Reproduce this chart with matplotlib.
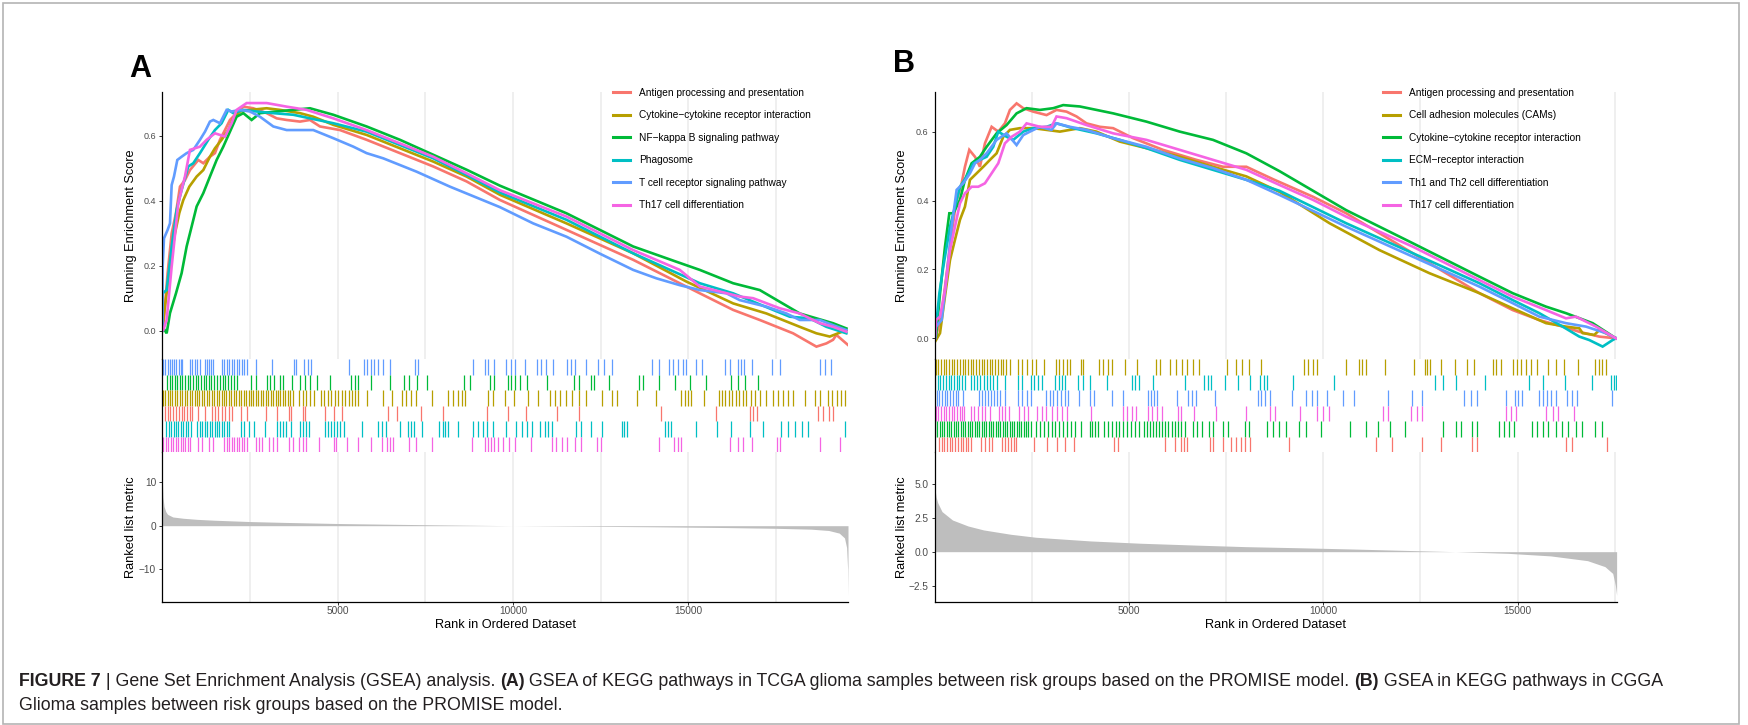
import matplotlib
matplotlib.use("Agg")
import matplotlib.pyplot as plt
from matplotlib.lines import Line2D
from matplotlib.patches import Rectangle
import numpy as np

plt.rcParams['font.family'] = ['Liberation Sans', 'DejaVu Sans']

W, H = 1749, 725

# ggplot hue palette
RED, OLIVE, GREEN, CYAN, BLUE, MAGENTA = '#F8766D', '#B79F00', '#00BA38', '#00BFC4', '#619CFF', '#F564E3'

# ---------------- Panel A (TCGA) ----------------
N_A = 19550
labels_a = ["Antigen processing and presentation", "Cytokine\u2212cytokine receptor interaction",
            "NF\u2212kappa B signaling pathway", "Phagosome", "T cell receptor signaling pathway",
            "Th17 cell differentiation"]
colors_a = [RED, OLIVE, GREEN, CYAN, BLUE, MAGENTA]

# running enrichment score curves (rank, ES)
es_antigen_a_x = [0, 28, 152, 267, 390, 504, 646, 789, 1026, 1169, 1358, 1501, 1644, 1786, 1929, 2119, 2309, 2594, 2975, 3260, 3545, 3925, 4210, 4495, 5065, 5825, 6775, 7725, 8675, 9625, 11524, 13424, 15324, 16274, 17034, 17984, 18649, 18934, 19124, 19219, 19551]
es_antigen_a_y = [0.0, 0.012, 0.177, 0.299, 0.362, 0.443, 0.463, 0.494, 0.525, 0.515, 0.535, 0.546, 0.587, 0.617, 0.648, 0.669, 0.689, 0.684, 0.669, 0.653, 0.648, 0.643, 0.648, 0.628, 0.617, 0.587, 0.546, 0.505, 0.459, 0.402, 0.31, 0.218, 0.115, 0.064, 0.033, -0.008, -0.049, -0.039, -0.028, -0.013, -0.044]
es_cyto_a_x = [0, 28, 124, 238, 361, 485, 599, 770, 979, 1169, 1358, 1501, 1691, 1881, 2024, 2214, 2500, 2975, 3355, 3925, 4305, 4875, 5825, 6775, 7725, 8675, 9625, 11524, 13424, 14944, 16274, 17224, 18174, 18649, 19029, 19504]
es_cyto_a_y = [0.0, 0.033, 0.115, 0.218, 0.299, 0.362, 0.402, 0.443, 0.474, 0.494, 0.535, 0.561, 0.587, 0.617, 0.653, 0.674, 0.679, 0.684, 0.679, 0.669, 0.658, 0.633, 0.602, 0.561, 0.520, 0.474, 0.418, 0.330, 0.238, 0.151, 0.084, 0.053, 0.012, -0.008, -0.018, 0.002]
es_nfkb_x = [0, 10, 124, 219, 390, 551, 694, 836, 979, 1169, 1358, 1549, 1739, 1929, 2119, 2309, 2547, 2785, 3260, 3735, 4210, 4875, 5825, 6775, 7725, 8675, 9625, 11524, 13424, 14659, 15324, 16274, 17034, 18174, 19124, 19504]
es_nfkb_y = [0.0, 0.012, -0.008, 0.054, 0.115, 0.177, 0.259, 0.320, 0.382, 0.423, 0.474, 0.525, 0.566, 0.612, 0.658, 0.669, 0.648, 0.669, 0.674, 0.679, 0.684, 0.664, 0.628, 0.587, 0.541, 0.495, 0.446, 0.361, 0.259, 0.212, 0.187, 0.146, 0.125, 0.053, 0.023, 0.007]
es_phago_x = [0, 10, 124, 267, 409, 551, 741, 884, 1074, 1311, 1501, 1691, 1881, 2024, 2309, 2690, 3165, 3735, 4210, 4875, 5825, 6775, 7725, 8675, 9625, 11524, 13424, 15324, 16274, 17414, 17889, 18459, 18934, 19504]
es_phago_y = [0.0, 0.115, 0.125, 0.259, 0.372, 0.433, 0.505, 0.515, 0.546, 0.587, 0.617, 0.638, 0.679, 0.669, 0.679, 0.674, 0.669, 0.664, 0.653, 0.638, 0.612, 0.571, 0.530, 0.479, 0.425, 0.341, 0.238, 0.146, 0.115, 0.064, 0.043, 0.038, 0.012, -0.008]
es_tcell_x = [0, 10, 48, 152, 219, 267, 333, 428, 551, 694, 884, 1074, 1217, 1358, 1454, 1644, 1834, 1976, 2214, 2500, 2785, 3165, 3545, 3925, 4305, 4875, 5445, 5825, 6300, 7250, 8200, 9625, 10574, 11524, 12474, 13424, 14089, 14754, 15324, 16084, 16464, 17224, 17794, 18174, 18744, 19124, 19504]
es_tcell_y = [0.0, 0.197, 0.284, 0.31, 0.33, 0.448, 0.474, 0.525, 0.535, 0.546, 0.556, 0.587, 0.612, 0.643, 0.648, 0.638, 0.679, 0.674, 0.679, 0.674, 0.658, 0.628, 0.617, 0.617, 0.617, 0.592, 0.566, 0.546, 0.530, 0.489, 0.443, 0.38, 0.330, 0.289, 0.237, 0.187, 0.161, 0.14, 0.125, 0.115, 0.094, 0.074, 0.053, 0.033, 0.033, 0.017, 0.002]
es_th17_a_x = [0, 28, 124, 267, 456, 646, 789, 1074, 1264, 1501, 1786, 1976, 2119, 2405, 2975, 3545, 4115, 4875, 5825, 6775, 7725, 8675, 9625, 11524, 13424, 14754, 15324, 16464, 16844, 17604, 18174, 18744, 19124, 19504]
es_th17_a_y = [0.0, 0.002, 0.033, 0.197, 0.392, 0.474, 0.556, 0.566, 0.587, 0.607, 0.597, 0.638, 0.679, 0.700, 0.700, 0.689, 0.679, 0.653, 0.617, 0.576, 0.535, 0.484, 0.432, 0.351, 0.248, 0.187, 0.136, 0.105, 0.10, 0.069, 0.053, 0.023, 0.012, -0.003]

# gene set hit positions (rank), rows drawn top to bottom
hits_tcell = [28, 90, 150, 215, 280, 340, 400, 470, 530, 566, 779, 850, 920, 990, 1062, 1204, 1270, 1330, 1400, 1458, 1699, 1770, 1840, 1900, 1980, 2050, 2120, 2200, 2270, 2336, 2407, 2662, 3115, 3752, 3823, 4036, 4150, 4248, 5310, 5763, 5850, 5950, 6050, 6150, 6301, 6485, 7193, 7292, 8850, 9204, 9300, 9459, 9813, 9950, 10054, 10337, 10691, 10800, 10950, 11144, 11540, 11650, 11753, 12078, 12432, 12602, 12815, 13976, 14160, 14443, 14550, 14700, 14850, 14939, 15222, 15392, 16043, 16185, 16426, 16510, 16596, 16808, 17374, 17601, 18762, 18904, 19074]
hits_nfkb = [142, 210, 280, 350, 420, 500, 560, 640, 720, 800, 880, 950, 1030, 1100, 1180, 1250, 1330, 1400, 1480, 1560, 1640, 1720, 1800, 1880, 1960, 2040, 2124, 2520, 2662, 2974, 3080, 3186, 3356, 3441, 3710, 3937, 4080, 4220, 4418, 4786, 5381, 5480, 5593, 5947, 6485, 6896, 7038, 7264, 7547, 8609, 8779, 9346, 9445, 9870, 9950, 10050, 10195, 10408, 10974, 11724, 11894, 12220, 12319, 12744, 13594, 13693, 14160, 14627, 15038, 15505, 16213, 16426, 16610, 16992]
hits_cyto_a = [15, 80, 150, 220, 290, 360, 430, 500, 570, 640, 710, 780, 850, 920, 990, 1060, 1130, 1200, 1270, 1340, 1410, 1480, 1550, 1620, 1690, 1760, 1830, 1900, 1970, 2040, 2110, 2180, 2250, 2320, 2390, 2460, 2530, 2600, 2670, 2740, 2810, 2880, 2950, 3020, 3090, 3160, 3230, 3300, 3370, 3440, 3510, 3580, 3650, 3720, 3894, 4000, 4100, 4200, 4319, 4531, 4620, 4720, 4820, 4920, 5020, 5120, 5220, 5320, 5420, 5500, 5593, 5834, 6301, 6556, 6825, 6950, 7100, 7222, 7689, 8142, 8280, 8420, 8540, 8638, 9275, 9416, 9770, 10025, 10436, 10719, 11045, 11200, 11350, 11500, 11682, 11894, 12078, 12532, 12815, 12956, 13523, 14089, 14797, 14900, 15000, 15080, 15434, 15859, 15950, 16050, 16150, 16250, 16350, 16450, 16550, 16638, 16780, 16900, 17050, 17204, 17416, 17550, 17700, 17850, 17983, 18337, 18620, 18762, 18974, 19100, 19250, 19350, 19470]
hits_antigen_a = [71, 150, 230, 310, 390, 470, 550, 630, 710, 790, 850, 1020, 1204, 1416, 1500, 1600, 1700, 1800, 1900, 1982, 2237, 2407, 2945, 3257, 3611, 3682, 4007, 4078, 4644, 4885, 5126, 6443, 6684, 7363, 8000, 9246, 9870, 10379, 11257, 11894, 14231, 15788, 16751, 16850, 16950, 18691, 18850, 19000, 19116]
hits_phago = [113, 180, 250, 320, 390, 460, 530, 600, 670, 740, 810, 1000, 1070, 1140, 1210, 1280, 1350, 1420, 1490, 1560, 1630, 1700, 1770, 1840, 1912, 2237, 2336, 2478, 2620, 2931, 3257, 3350, 3450, 3540, 3682, 3922, 4000, 4100, 4177, 4630, 4720, 4810, 4900, 4990, 5080, 5168, 5692, 6160, 6250, 6372, 6768, 7009, 7100, 7179, 7392, 7901, 8000, 8070, 8142, 8425, 8850, 8990, 9130, 9270, 9416, 9813, 10096, 10250, 10400, 10549, 10762, 10900, 11000, 11116, 11795, 11937, 12220, 12532, 13098, 13170, 13240, 14344, 14430, 14514, 15222, 15817, 16213, 16751, 17134, 17629, 17850, 18050, 18250, 18408, 19470]
hits_th17_a = [28, 100, 170, 240, 310, 380, 450, 520, 590, 660, 730, 779, 1020, 1133, 1345, 1458, 1770, 1840, 1910, 1980, 2050, 2120, 2190, 2260, 2330, 2407, 2662, 2750, 2832, 3044, 3150, 3257, 3611, 3724, 3894, 4000, 4106, 4460, 4885, 4956, 5268, 5593, 5947, 6273, 6400, 6500, 6584, 7038, 7222, 7689, 8822, 9204, 9290, 9380, 9470, 9558, 9700, 9880, 10054, 10521, 11116, 11229, 11399, 11540, 11753, 11937, 12390, 12503, 14160, 14585, 14690, 14797, 16185, 16426, 16567, 16808, 17516, 17601, 18762, 19329]

# ranked list metric
metric_a_x = [0, 20, 50, 100, 150, 300, 600, 1000, 1500, 2500, 3500, 5000, 6500, 8000, 10000, 12000, 14000, 16000, 17500, 18500, 19000, 19300, 19450, 19510, 19540, 19550]
metric_a_y = [11.0, 6.5, 4.4, 3.2, 2.6, 2.0, 1.7, 1.45, 1.25, 0.95, 0.75, 0.5, 0.33, 0.18, 0.0, -0.12, -0.25, -0.42, -0.6, -0.8, -1.1, -1.7, -2.8, -5.0, -10.0, -16.0]

# ---------------- Panel B (CGGA) ----------------
N_B = 17560
labels_b = ["Antigen processing and presentation", "Cell adhesion molecules (CAMs)",
            "Cytokine\u2212cytokine receptor interaction", "ECM\u2212receptor interaction",
            "Th1 and Th2 cell differentiation", "Th17 cell differentiation"]
colors_b = [RED, OLIVE, GREEN, CYAN, BLUE, MAGENTA]

es_antigen_b_x = [0, 26, 172, 300, 429, 540, 686, 771, 883, 1029, 1157, 1286, 1458, 1629, 1800, 1929, 2101, 2272, 2529, 2872, 3129, 3386, 3644, 3901, 4244, 4587, 5101, 5873, 6730, 7416, 8017, 8703, 9731, 10588, 11445, 12303, 13160, 14018, 14875, 15561, 16161, 16590, 17104, 17533]
es_antigen_b_y = [0.0, 0.005, 0.072, 0.188, 0.305, 0.392, 0.450, 0.498, 0.547, 0.527, 0.498, 0.566, 0.614, 0.600, 0.624, 0.663, 0.682, 0.668, 0.658, 0.648, 0.663, 0.658, 0.644, 0.624, 0.614, 0.610, 0.581, 0.547, 0.518, 0.498, 0.498, 0.462, 0.411, 0.363, 0.305, 0.247, 0.189, 0.131, 0.082, 0.053, 0.034, 0.019, 0.005, 0.0]
es_cams_x = [0, 26, 129, 257, 386, 514, 643, 771, 900, 1072, 1243, 1415, 1586, 1758, 1929, 2186, 2529, 2872, 3215, 3729, 4158, 4758, 5444, 6302, 7159, 8017, 8874, 10160, 11445, 12732, 14018, 14875, 15732, 16247, 16590, 16676, 16976, 17104, 17533]
es_cams_y = [0.0, -0.005, 0.015, 0.122, 0.227, 0.286, 0.344, 0.382, 0.460, 0.479, 0.498, 0.518, 0.537, 0.585, 0.605, 0.610, 0.610, 0.605, 0.600, 0.610, 0.600, 0.571, 0.552, 0.527, 0.498, 0.470, 0.425, 0.334, 0.256, 0.189, 0.131, 0.087, 0.044, 0.034, 0.029, 0.015, 0.010, 0.024, 0.0]
es_cyto_b_x = [0, 26, 129, 257, 369, 472, 643, 771, 943, 1157, 1329, 1586, 1843, 2101, 2358, 2701, 3044, 3301, 3729, 4158, 4587, 5444, 6302, 7159, 8017, 8874, 10588, 12303, 14018, 14875, 15732, 16247, 16933, 17533]
es_cyto_b_y = [0.0, 0.005, 0.130, 0.266, 0.363, 0.363, 0.402, 0.460, 0.508, 0.527, 0.556, 0.595, 0.619, 0.653, 0.668, 0.663, 0.668, 0.677, 0.673, 0.663, 0.653, 0.629, 0.600, 0.576, 0.537, 0.485, 0.372, 0.276, 0.179, 0.131, 0.092, 0.073, 0.044, 0.0]
es_ecm_x = [0, 26, 112, 214, 386, 514, 643, 814, 986, 1157, 1329, 1500, 1629, 1843, 2015, 2272, 2529, 2872, 3129, 3558, 4158, 4758, 5444, 6302, 7159, 8017, 8874, 10588, 12303, 14018, 14875, 15561, 16161, 16590, 16847, 17190, 17447, 17533]
es_ecm_y = [0.0, 0.034, 0.130, 0.208, 0.324, 0.382, 0.440, 0.469, 0.508, 0.518, 0.527, 0.556, 0.600, 0.585, 0.576, 0.600, 0.610, 0.614, 0.624, 0.610, 0.595, 0.576, 0.552, 0.518, 0.489, 0.460, 0.428, 0.334, 0.247, 0.160, 0.111, 0.073, 0.034, 0.005, -0.005, -0.024, -0.005, 0.0]
es_th1_x = [0, 26, 172, 300, 429, 557, 729, 900, 1029, 1157, 1329, 1586, 1843, 2101, 2272, 2444, 2701, 3001, 3129, 3472, 3901, 4587, 5444, 6302, 7159, 8017, 8874, 10588, 12303, 14018, 14875, 15561, 16247, 16762, 17276, 17533]
es_th1_y = [0.0, 0.034, 0.053, 0.179, 0.324, 0.431, 0.450, 0.479, 0.508, 0.518, 0.537, 0.576, 0.595, 0.561, 0.590, 0.600, 0.614, 0.605, 0.624, 0.614, 0.605, 0.581, 0.556, 0.522, 0.494, 0.460, 0.416, 0.324, 0.237, 0.150, 0.102, 0.063, 0.044, 0.034, 0.015, 0.0]
es_th17_b_x = [0, 26, 129, 257, 386, 514, 643, 771, 943, 1115, 1286, 1458, 1629, 1800, 1972, 2186, 2358, 2701, 3001, 3129, 3386, 3901, 4587, 5444, 6302, 7159, 8017, 8874, 9731, 10588, 12303, 14018, 14875, 15732, 16247, 16504, 17019, 17533]
es_th17_b_y = [0.0, 0.053, 0.063, 0.140, 0.256, 0.324, 0.392, 0.421, 0.440, 0.440, 0.450, 0.479, 0.508, 0.566, 0.585, 0.600, 0.624, 0.614, 0.614, 0.644, 0.639, 0.619, 0.595, 0.576, 0.547, 0.518, 0.489, 0.445, 0.402, 0.353, 0.266, 0.169, 0.121, 0.082, 0.058, 0.063, 0.034, 0.0]

hits_cams = [14, 80, 150, 220, 290, 360, 430, 500, 570, 640, 710, 780, 850, 920, 990, 1060, 1130, 1200, 1270, 1340, 1410, 1480, 1550, 1620, 1690, 1760, 1830, 1932, 2135, 2250, 2380, 2500, 2607, 2810, 3107, 3200, 3300, 3400, 3486, 3756, 3823, 4229, 4330, 4450, 4566, 4904, 5201, 5688, 5782, 6052, 6200, 6350, 6500, 6650, 6795, 7512, 7741, 7900, 8079, 8390, 9497, 9600, 9720, 9835, 10578, 10916, 11000, 11092, 11592, 12334, 12604, 12680, 12740, 13037, 13388, 13685, 13888, 14361, 14450, 14564, 14875, 14980, 15100, 15220, 15350, 15509, 15780, 15982, 16185, 16563, 16996, 17100, 17180, 17266]
hits_ecm = [0, 70, 140, 210, 280, 350, 420, 490, 560, 630, 700, 784, 919, 1000, 1080, 1160, 1250, 1330, 1420, 1500, 1594, 1797, 2135, 2229, 2472, 2560, 2650, 2743, 3080, 3180, 3280, 3350, 3688, 3823, 3985, 4431, 5080, 5160, 5242, 5607, 6431, 6931, 7020, 7106, 7471, 7809, 8120, 8376, 8460, 8552, 9227, 10281, 12875, 13078, 13415, 14158, 15307, 15644, 16225, 16928, 17401, 17470, 17536]
hits_th1 = [41, 110, 180, 250, 320, 390, 460, 530, 600, 716, 1121, 1200, 1280, 1360, 1440, 1520, 1600, 1680, 1797, 2135, 2250, 2370, 2472, 2851, 2950, 3050, 3150, 3250, 3350, 3418, 3715, 3999, 4094, 4566, 4837, 5472, 5550, 5640, 5715, 6228, 6525, 6620, 6728, 7201, 8309, 8400, 8500, 8619, 9200, 9565, 9700, 9835, 10106, 10511, 10781, 11659, 12294, 12537, 13618, 13800, 13956, 14699, 14942, 15020, 15104, 15550, 15650, 15750, 15850, 15982, 16279, 16400, 16523, 17442]
hits_th17_b = [14, 80, 150, 220, 290, 360, 430, 500, 570, 640, 700, 757, 919, 1000, 1100, 1200, 1300, 1419, 1635, 1720, 1810, 1905, 2175, 2290, 2405, 2634, 2750, 2870, 3000, 3130, 3260, 3391, 4026, 4837, 4950, 5060, 5174, 5472, 5600, 5720, 5850, 6255, 6323, 6660, 7241, 8012, 8619, 8754, 9403, 9835, 9990, 10146, 11524, 11659, 12267, 12400, 12537, 14699, 14830, 14969, 15739, 15900, 16050, 16455]
hits_cyto_b = [0, 60, 120, 180, 240, 300, 360, 420, 480, 540, 600, 660, 720, 780, 840, 900, 960, 1020, 1080, 1140, 1200, 1260, 1320, 1380, 1440, 1500, 1560, 1620, 1680, 1740, 1800, 1860, 1920, 1980, 2040, 2100, 2160, 2220, 2280, 2340, 2400, 2460, 2607, 2700, 2800, 2900, 3000, 3100, 3200, 3300, 3400, 3500, 3600, 3756, 3985, 4050, 4120, 4202, 4364, 4450, 4550, 4650, 4750, 4850, 4950, 5050, 5150, 5242, 5377, 5450, 5530, 5610, 5690, 5770, 5850, 5930, 6010, 6090, 6170, 6250, 6340, 6431, 6633, 6750, 6863, 7066, 7160, 7403, 7539, 7985, 8079, 8552, 8700, 8850, 9025, 9362, 9565, 9930, 10673, 11092, 11416, 11727, 12105, 13078, 13415, 13550, 13820, 13956, 14523, 14650, 14780, 14902, 15374, 15500, 15650, 15780, 15982, 16150, 16300, 16500, 16658, 16996, 17172]
hits_antigen_b = [108, 170, 240, 310, 380, 450, 520, 590, 660, 730, 800, 860, 919, 1189, 1300, 1400, 1459, 1729, 1800, 1880, 1960, 2040, 2094, 2540, 2878, 3148, 3350, 3580, 4607, 4701, 5917, 6188, 6323, 6410, 6498, 7093, 7160, 7403, 7633, 7750, 7870, 7990, 8106, 9119, 11348, 11754, 12537, 13037, 13820, 13956, 16252, 16414, 17293]

metric_b_x = [0, 30, 70, 180, 450, 850, 1250, 1950, 2600, 4000, 5300, 6650, 8000, 9350, 10700, 12050, 13400, 14750, 15850, 16800, 17250, 17450, 17520, 17550]
metric_b_y = [4.6, 4.0, 3.6, 2.95, 2.33, 1.89, 1.60, 1.28, 1.06, 0.79, 0.62, 0.49, 0.37, 0.29, 0.20, 0.10, 0.0, -0.12, -0.31, -0.66, -1.1, -1.6, -2.5, -3.2]


def px_rect(left, top, right, bottom):
    """Figure-fraction rectangle from pixel edges (origin top-left)."""
    return [left / W, 1 - bottom / H, (right - left) / W, (bottom - top) / H]


def draw_gsea(fig, left, right, n, curves, labels, colors, hit_rows, mx, my,
              es_ylim, rank_ylim, rank_ticks, rank_ticklabels, legend_x, ylab_x):
    grid_major = [5000, 10000, 15000]
    grid_minor = [2500, 7500, 12500, 17500]
    width = right - left

    ax_es = fig.add_axes(px_rect(left, 92, right, 359))
    ax_hit = fig.add_axes(px_rect(left, 359, right, 452))
    ax_rk = fig.add_axes(px_rect(left, 452, right, 602))

    for ax in (ax_es, ax_hit, ax_rk):
        ax.set_xlim(0, n)
        for s in ('top', 'right', 'bottom'):
            ax.spines[s].set_visible(False)
        ax.spines['left'].set_linewidth(0.9)
        ax.spines['left'].set_color('black')

    # running enrichment score
    for (x, y), c in zip(curves, colors):
        ax_es.plot(x, y, color=c, lw=1.9, solid_joinstyle='miter')
    ax_es.set_ylim(*es_ylim)
    ax_es.set_yticks([0.0, 0.2, 0.4, 0.6])
    ax_es.set_yticklabels(['0.0', '0.2', '0.4', '0.6'])
    ax_es.set_xticks(grid_major)
    ax_es.set_xticks(grid_minor, minor=True)
    ax_es.tick_params(axis='x', which='both', length=0, labelbottom=False)
    ax_es.tick_params(axis='y', labelsize=6.5, labelcolor='#4D4D4D', color='#333333',
                      length=2.5, width=0.7, pad=2)
    ax_es.grid(axis='x', which='both', color='#EBEBEB', lw=1.1)
    ax_es.set_axisbelow(True)
    ax_es.set_ylabel('Running Enrichment Score', fontsize=9.2)
    ax_es.yaxis.set_label_coords((ylab_x - left) / width, 0.5)
    ax_es.yaxis.label.set_verticalalignment('center')

    handles = [Line2D([], [], color=c, lw=2.2) for c in colors]
    ax_es.legend(handles, labels, loc='upper left', bbox_to_anchor=(legend_x / W, 1 - 87.5 / H),
                 bbox_transform=fig.transFigure, frameon=False, fontsize=7.3,
                 handlelength=1.68, handletextpad=0.9, labelspacing=1.24,
                 borderpad=0, borderaxespad=0)

    # hit ticks
    nrow = len(hit_rows)
    for i, (hits, c) in enumerate(hit_rows):
        ax_hit.vlines(hits, nrow - i - 1, nrow - i, color=c, lw=0.9)
    ax_hit.set_ylim(0, nrow)
    ax_hit.set_xticks([])
    ax_hit.set_yticks([])

    # ranked list metric
    ax_rk.fill_between(mx, 0, my, color='#BEBEBE', lw=0)
    ax_rk.set_ylim(*rank_ylim)
    ax_rk.set_yticks(rank_ticks)
    ax_rk.set_yticklabels(rank_ticklabels)
    ax_rk.spines['bottom'].set_visible(True)
    ax_rk.spines['bottom'].set_linewidth(0.9)
    ax_rk.spines['bottom'].set_color('black')
    ax_rk.set_xticks(grid_major)
    ax_rk.set_xticklabels(['5000', '10000', '15000'])
    ax_rk.set_xticks(grid_minor, minor=True)
    ax_rk.tick_params(axis='x', which='minor', length=0)
    ax_rk.tick_params(axis='both', which='major', labelsize=7.3, labelcolor='#4D4D4D',
                      color='#333333', length=2.5, width=0.7, pad=2)
    ax_rk.tick_params(axis='x', which='major', pad=0.6)
    ax_rk.grid(axis='x', which='both', color='#EBEBEB', lw=1.1)
    ax_rk.set_axisbelow(True)
    ax_rk.set_ylabel('Ranked list metric', fontsize=9.2)
    ax_rk.yaxis.set_label_coords((ylab_x - left) / width, 0.5)
    ax_rk.yaxis.label.set_verticalalignment('center')
    ax_rk.set_xlabel('Rank in Ordered Dataset', fontsize=9.2)
    ax_rk.xaxis.set_label_coords(0.5, (602 - 619) / 150)


fig = plt.figure(figsize=(W / 100, H / 100), dpi=100)

curves_a = [(es_antigen_a_x, es_antigen_a_y), (es_cyto_a_x, es_cyto_a_y), (es_nfkb_x, es_nfkb_y),
            (es_phago_x, es_phago_y), (es_tcell_x, es_tcell_y), (es_th17_a_x, es_th17_a_y)]
rows_a = [(hits_tcell, BLUE), (hits_nfkb, GREEN), (hits_cyto_a, OLIVE),
          (hits_antigen_a, RED), (hits_phago, CYAN), (hits_th17_a, MAGENTA)]
draw_gsea(fig, 162.3, 848, N_A, curves_a, labels_a, colors_a, rows_a, metric_a_x, metric_a_y,
          (-0.087, 0.734), (-17.5, 16.9), [10, 0, -10], ['10', '0', '\u221210'], 613, 131)

curves_b = [(es_antigen_b_x, es_antigen_b_y), (es_cams_x, es_cams_y), (es_cyto_b_x, es_cyto_b_y),
            (es_ecm_x, es_ecm_y), (es_th1_x, es_th1_y), (es_th17_b_x, es_th17_b_y)]
rows_b = [(hits_cams, OLIVE), (hits_ecm, CYAN), (hits_th1, BLUE),
          (hits_th17_b, MAGENTA), (hits_cyto_b, GREEN), (hits_antigen_b, RED)]
draw_gsea(fig, 935, 1617, N_B, curves_b, labels_b, colors_b, rows_b, metric_b_x, metric_b_y,
          (-0.06, 0.715), (-3.7, 7.33), [5.0, 2.5, 0.0, -2.5], ['5.0', '2.5', '0.0', '\u22122.5'],
          1383, 902)

# panel letters
fig.text(140 / W, 1 - 69 / H, 'A', fontsize=22, fontweight='bold', ha='center', va='center')
fig.text(904 / W, 1 - 64 / H, 'B', fontsize=22, fontweight='bold', ha='center', va='center')

# caption, built piece by piece so bold runs sit inline
cap_color = '#231F20'
cap_size = 12.8
line1 = [("FIGURE 7", 'bold'), (" | Gene Set Enrichment Analysis (GSEA) analysis. ", 'normal'),
         ("(A)", 'bold'),
         (" GSEA of KEGG pathways in TCGA glioma samples between risk groups based on the PROMISE model. ", 'normal'),
         ("(B)", 'bold'), (" GSEA in KEGG pathways in CGGA", 'normal')]
line2 = [("Glioma samples between risk groups based on the PROMISE model.", 'normal')]

renderer = fig.canvas.get_renderer()
for pieces, ypx in ((line1, 681), (line2, 706)):
    xpx = 19
    for txt, wt in pieces:
        t = fig.text(xpx / W, 1 - ypx / H, txt, fontsize=cap_size, fontweight=wt,
                     color=cap_color, ha='left', va='center')
        bb = t.get_window_extent(renderer=renderer)
        xpx += bb.width

# outer frame
fig.patches.append(Rectangle((3 / W, 1 / H), (1739 - 3) / W, (722 - 1) / H, transform=fig.transFigure,
                             fill=False, edgecolor='#B4B4B4', lw=1.2))

fig.savefig('out.png', dpi=100)
